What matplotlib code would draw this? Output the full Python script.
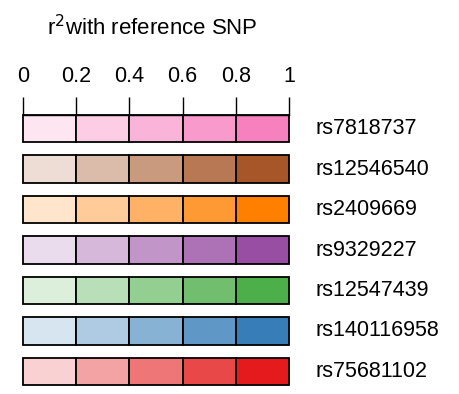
import matplotlib
matplotlib.use("Agg")
import matplotlib.pyplot as plt
from matplotlib.colors import to_rgba

plt.rcParams['font.family'] = ['Liberation Sans', 'DejaVu Sans']

# SNPs and their base colours (top to bottom)
snps = ["rs7818737", "rs12546540", "rs2409669", "rs9329227",
        "rs12547439", "rs140116958", "rs75681102"]
base_colors = ["#F781BF", "#A65628", "#FF7F00", "#984EA3",
               "#4DAF4A", "#377EB8", "#E41A1C"]
r2_bins = [0.0, 0.2, 0.4, 0.6, 0.8]
alphas = [0.2, 0.4, 0.6, 0.8, 1.0]
tick_vals = [0, 0.2, 0.4, 0.6, 0.8, 1]
tick_labels = ["0", "0.2", "0.4", "0.6", "0.8", "1"]


def blend(c, a):
    r, g, b, _ = to_rgba(c)
    return (1 - a + a * r, 1 - a + a * g, 1 - a + a * b)


fig = plt.figure(figsize=(4.59, 3.94), dpi=100)
ax = fig.add_axes([23 / 459, 1 - 385 / 394, 266 / 459, 270 / 394])

h = 0.68
for i, (snp, col) in enumerate(zip(snps, base_colors)):
    cols = [blend(col, a) for a in alphas]
    ax.bar(r2_bins, [h] * 5, width=0.2, bottom=i, align='edge',
           color=cols, edgecolor='black', linewidth=1.3, clip_on=False)
    ax.text(1.1, i + h / 2, snp, fontsize=15.5, va='center', ha='left')

ax.set_xlim(0, 1)
ax.set_ylim(len(snps) - 1 + h, 0)
for s in ['left', 'right', 'bottom']:
    ax.spines[s].set_visible(False)
ax.spines['top'].set_linewidth(1.0)
ax.set_yticks([])
ax.xaxis.set_ticks_position('top')
ax.set_xticks(tick_vals)
ax.set_xticklabels(tick_labels)
ax.tick_params(axis='x', direction='out', length=13, width=1.0,
               pad=7, labelsize=15.5)

fig.text(152 / 459, 1 - 35 / 394, r"r$^{2}$with reference SNP",
         fontsize=16, ha='center', va='baseline')

fig.savefig("out.png", dpi=100)
